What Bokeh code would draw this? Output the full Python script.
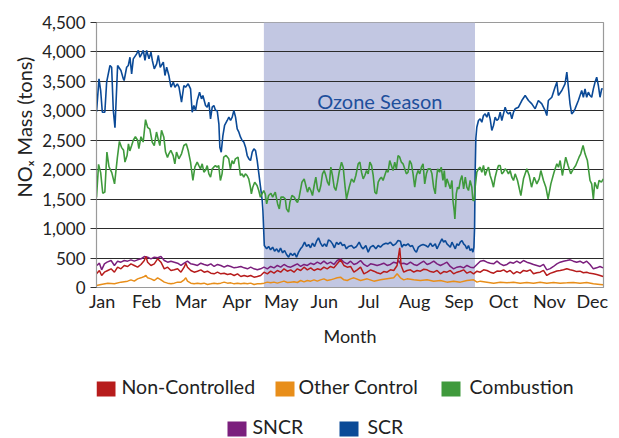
from bokeh.plotting import figure
from bokeh.models import Range1d, FixedTicker, NumeralTickFormatter, Label, Title
from bokeh.layouts import column
from bokeh.embed import file_html
from bokeh.resources import INLINE
from bokeh.core.properties import value

# ---------------- data (day of year, tons) ----------------
month_labels = ["Jan", "Feb", "Mar", "Apr", "May", "Jun",
                "Jul", "Aug", "Sep", "Oct", "Nov", "Dec"]
series_names = ["Non-Controlled", "Other Control", "Combustion", "SNCR", "SCR"]
season_start = 120.5   # May 1
season_end = 272.5     # Sep 30

scr_day = [0, 1.8, 3, 4.2, 6, 7.3, 9.7, 10.9, 12.1, 13.3, 15.2, 17.6, 19.3, 19.9, 21.7, 22.9, 24.1, 25.3,
           26.5, 28.9, 30.1, 31.3, 32.5, 33.7, 34.9, 36.1, 37.8, 39.2, 40.2, 41.6, 43.3, 44.5, 45.9, 48.1,
           49.3, 50.5, 52.1, 53.6, 55.3, 56.5, 58.2, 59.4, 61.2, 62.9, 64.1, 66, 67.7, 68.9, 70.1, 71.3,
           72.5, 74.2, 75.6, 76.6, 78.5, 79.7, 80.9, 82.1, 83.3, 84.5, 85.7, 86.9, 88.1, 88.8, 89.8, 91,
           92.2, 94.1, 95.3, 96.5, 97.7, 98.9, 100.1, 101.3, 102.5, 103.7, 104.9, 106.1, 107.3, 108.5,
           109.7, 110.9, 112.1, 113.3, 114.5, 115.7, 116.9, 118.1, 119.3, 119.8,
           120.8, 122.5, 123.9, 125.3, 126.8, 128.2, 129.7, 131.1, 132.5, 134, 135.4, 136.8, 138.3, 139.7,
           141.2, 142.6, 144, 145.5, 146.9, 148.3, 149.8, 151.2, 152.7, 154.1, 155.5, 157, 158.4, 159.8,
           161.3, 162.7, 164.1, 165.6, 167, 168.5, 169.9, 171.3, 172.8, 174.2, 175.6, 177.1, 178.5, 179.9,
           181.4, 183.6, 185.3, 187.2, 189.1, 190.8, 192, 193.9, 195.6, 197.2, 199.2, 201.1, 202.8, 204.4,
           206.3, 208.3, 209.9, 211.6, 213.5, 215.4, 217.1, 218.8, 219.8, 221.2, 222.6, 224.3, 226, 227.4,
           229.1, 230.3, 231.7, 233.2, 235.1, 237, 238.7, 240.4, 241.8, 242.7, 243.9, 245.1, 246.3, 247.5,
           248.7, 249.9, 251.1, 252.3, 253.5, 254.7, 255.9, 257.1, 258.3, 259.5, 260.7, 261.9, 263.1,
           264.3, 265.5, 266.6, 267.8, 269, 270.2, 271, 271.7, 272.2, 272.6, 273.1, 273.8,
           275, 276.2, 277.4, 278.6, 279.8, 281, 282.2, 283.4, 284.6, 285.8, 287, 288.2, 289.4, 290.6,
           291.8, 293, 294.2, 295.4, 296.6, 297.8, 299, 300.2, 301.4, 303.8, 306.2, 308.6, 311, 313.4,
           315.8, 318.1, 320.6, 323, 324.2, 325.3, 327.8, 330.1, 331.4, 332.5, 335, 337.3, 338.6, 339.7,
           340.9, 342.1, 343.3, 344.5, 346.9, 349.3, 350.5, 351.7, 352.9, 354.1, 355.3, 356.5, 357.7,
           358.9, 360.1, 361.3, 362.5, 363.7, 364.4]
scr_tons = [2980, 3543, 3345, 2977, 2977, 3486, 3770, 3740, 3005, 2712, 3770, 3685, 3543, 3515, 3740, 3770, 3910, 3628,
            3883, 3968, 4025, 3910, 3968, 4025, 3855, 4025, 3883, 3997, 3855, 3713, 3798, 3940, 3740, 3826,
            3600, 3740, 3600, 3401, 3486, 3401, 3458, 3401, 3146, 3430, 3401, 3458, 3373, 2977, 3090, 3005,
            3175, 3317, 3203, 3260, 3090, 3062, 3146, 2864, 3062, 3090, 3005, 3005, 2780, 2383, 2298, 2581,
            2751, 2836, 2893, 2836, 2893, 3005, 2893, 2694, 2638, 2553, 2496, 2468, 2383, 2241,
            2185, 2156, 2298, 2355, 2326, 2156, 1930, 1703, 1477, 1307,
            713, 657, 697, 640, 685, 617, 657, 600, 668, 589, 628, 560, 515, 583,
            543, 583, 515, 600, 657, 697, 770, 697, 730, 674, 753, 697, 787, 843,
            753, 697, 741, 697, 809, 787, 741, 674, 770, 730, 770, 713, 730, 657,
            697, 713, 668, 697, 770, 685, 657, 713, 600, 685, 713, 657, 713, 685,
            730, 753, 741, 770, 713, 741, 798, 787, 685, 730, 713, 741, 697, 713,
            628, 600, 685, 713, 730, 713, 685, 753, 697, 713, 741, 657, 713, 770,
            826, 770, 798, 741, 713, 685, 770, 713, 657, 741, 713, 770, 798,
            741, 713, 657, 713, 628, 657, 600, 685, 1024, 1950, 2530, 2722,
            2836, 2864, 2807, 2920, 2948, 2892, 2977, 2864, 2666, 2751, 2892, 2836, 2864, 2977,
            2836, 2948, 3062, 2977, 2948, 2977, 2864, 2977, 3034, 3062, 3175, 3260, 3175, 3119,
            3034, 3175, 3119, 3005, 2920, 3175, 3231, 3401, 3486, 3260, 3345, 3458, 3656, 3401,
            3119, 2949, 2980, 3034, 3175, 3345, 3231, 3373, 3231, 3317, 3260, 3231, 3373,
            3486, 3571, 3430, 3231, 3373, 3373]

comb_day = [0, 1.5, 3, 4.5, 6, 7.5, 9, 11, 13, 15, 16.5, 18, 19.5, 20.5, 22, 23, 24, 25.3, 26.5, 28, 29.6,
            30.5, 32, 33.6, 35.3, 36.8, 38.4, 40.1, 41.6, 43.2, 44.4, 45.6, 46.8, 48.5, 49.7, 51.1, 52.1,
            53.5, 55.2, 56.4, 57.6, 59.3, 61.2, 62.9, 64.6, 66, 67.7, 69.4, 70.8, 72.5, 73.7, 74.9, 76.1,
            77.3, 78.5, 79.7, 80.9, 82.1, 83.3, 84.4, 85.6, 86.8, 88, 89.2, 90.4, 91.6, 93.3, 95.2, 96.4,
            97.6, 98.8, 100, 101.9, 103.6, 104.8, 106, 107.2, 108.4, 109.6, 110.8, 111.5, 112.5, 113.9,
            115.6, 116.8, 118, 119.2, 120.4, 121.5, 122.5, 123.9, 125.6, 126.8, 128.7, 130.4, 131.6, 132.8,
            134.5, 135.9, 136.8, 138.3, 139.2, 140.7, 142.4, 143.6, 144.7, 145.9, 147.9, 149.5, 150.7,
            151.9, 153.1, 154.3, 155.5, 156.7, 157.9, 159.1, 160.3, 161.5, 162.7, 163.9, 165.1, 166.3,
            167.5, 168.7, 169.9, 171.1, 172.3, 173.5, 174.7, 176.4, 177.6, 179, 180, 181.9, 183.6, 185.3,
            186.7, 188.4, 189.6, 190.8, 192, 193.2, 194.4, 195.6, 196.8, 198, 199.2, 200.4, 201.6, 202.8,
            204, 205.1, 206.3, 207.5, 208.7, 209.9, 211.1, 212.3, 213.5, 214.7, 215.9, 217.1, 218.3, 219.5,
            220.7, 221.9, 223.1, 224.3, 225.5, 226.7, 227.9, 229.1, 230.3, 231.5, 232.7, 233.9, 235.1,
            236.3, 237.5, 238.7, 240.3, 241.5, 242.7, 243.9, 244.6, 245.6, 247, 248.2, 249.4, 250.4, 251.3,
            252.3, 253.5, 254.7, 255.9, 256.6, 257.5, 258, 259, 259.9, 260.9, 261.9, 263.1, 264.3, 265.5,
            266.6, 267.8, 269, 270.2, 271, 271.9, 272.6, 273.8, 275, 276.2, 277.4, 278.6, 279.8, 281,
            282.2, 283.4, 284.6, 285.8, 287, 288.2, 289.4, 290.6, 291.8, 293, 294.2, 295.4, 296.6, 297.8,
            299, 300.2, 301.4, 303.1, 305.5, 307.4, 309.8, 311.5, 313.2, 315.1, 317, 318.7, 319.9, 321.8,
            323.5, 325.1, 327.1, 329.4, 331.4, 332.6, 333.8, 335.4, 337.8, 339.5, 341.4, 343.3, 345, 347.4,
            348.6, 350.3, 351.7, 353.4, 355.3, 356.5, 357.7, 358.7, 360.6, 361.8, 363.5, 364.9]
comb_tons = [1530, 2090, 1950, 1600, 1620, 2300, 2050, 1950, 1760, 2200, 2480, 2380, 2330, 2130, 2240, 2440, 2320, 2410, 2500, 2560, 2500,
             2360, 2560, 2470, 2850, 2720, 2690, 2470, 2410, 2640, 2520, 2410, 2670, 2550, 2300, 2210, 2270,
             2330, 2240, 2100, 2300, 2185, 2270, 2411, 2440, 2326, 2128, 1817, 2043, 2128, 2070, 2015, 2100,
             1958, 1990, 2070, 1930, 1873, 2015, 2043, 2070, 2043, 2070, 1817, 1930, 2213, 2241, 2185, 2015,
             2156, 2100, 2185, 2213, 1902, 1930, 1873, 1930, 1902, 1845, 1703, 1591, 1703, 1788,
             1732, 1647, 1533, 1591, 1647, 1585, 1420, 1562, 1600, 1534, 1619, 1420, 1335, 1534,
             1534, 1505, 1335, 1279, 1443, 1562, 1534, 1477, 1443, 1534, 1788, 1845, 1732,
             1619, 1703, 1647, 1562, 1732, 1873, 1675, 1619, 1732, 1930, 1986, 1900, 1788,
             1732, 2043, 1900, 1703, 1647, 1788, 1958, 2128, 2043, 1703, 1505, 1703, 1845, 1788,
             1902, 2100, 2128, 1958, 1845, 1902, 1986, 1930, 2128, 2072, 1902, 1619, 1590, 1788,
             1845, 1873, 1817, 1902, 1986, 1958, 2156, 2072, 1986, 2128, 2015, 2241, 2213, 2128,
             2100, 2015, 1930, 1958, 2156, 2100, 1930, 1703, 1902, 1986, 1930, 2043, 2100,
             1760, 1930, 2015, 2015, 1930, 1703, 1590, 1817, 2015, 1958, 2043, 1817, 1986, 1703,
             1845, 1760, 1675, 1817, 1477, 1307, 1165, 1590, 1703, 1675, 1817, 1902, 1675, 1873,
             1703, 1647, 1817, 1703, 1477, 1477, 1703, 1958, 2015, 2043, 1958, 2072, 1902, 1986,
             2043, 1902, 1817, 1703, 1873, 1986, 2072, 2072, 1930, 1958, 2015, 1986, 1930, 1986,
             1873, 1817, 1930, 1817, 1562, 1845, 2015, 1902, 1703, 1873, 1760, 1845, 1986, 1817,
             1703, 1505, 1760, 1958, 2100, 2043, 2156, 1902, 2213, 2072, 1930, 2015, 2072, 2213,
             2270, 2411, 2270, 2156, 1817, 1760, 1505, 1788, 1675, 1817, 1788, 1845]

sncr_day = [0, 2.1, 3.7, 5.7, 7.6, 10.5, 12.9, 15.2, 17.6, 20, 22.4, 24.8, 27.2, 29.6, 32, 34.4, 36.8, 39.2,
            41.6, 44, 46.4, 48.8, 51.2, 53.6, 56, 58.4, 60.8, 63.1, 65.5, 67.9, 70.3, 72.7, 75.1, 77.5, 79.9,
            82.3, 84.7, 87.1, 89.5, 91.9, 94.3, 96.7, 99.1, 101.5, 103.9, 106.3, 108.7, 111, 113.4, 115.8,
            118.2, 120.6, 123, 125.4, 127.8, 130.2, 132.6, 135, 137.4, 139.8, 142.2, 144.6, 147, 149.4, 151.8,
            154.2, 156.6, 159, 161.3, 163.7, 166.1, 168.5, 170.9, 173.3, 175.7, 178.1, 180.5, 182.9, 185.3,
            187.7, 190.1, 192.5, 194.9, 197.3, 199.7, 202, 204.4, 206.8, 209.2, 211.6, 214, 216.4, 217.6,
            218.8, 221.2, 223.6, 226, 228.4, 230.8, 233.2, 235.6, 238, 240.4, 242.8, 245.2, 247.6, 250,
            252.3, 254.7, 257.1, 259.5, 261.9, 264.3, 266.7, 269.1, 271.5, 273.9, 276.3, 278.7, 281.1,
            283.5, 285.9, 288.3, 290.7, 293.1, 295.5, 297.8, 300.2, 302.6, 305, 307.4, 309.8, 312.2, 314.6,
            317, 319.4, 321.8, 324.2, 326.6, 329, 331.4, 333.8, 336.2, 338.6, 341, 343.3, 345.7, 348.1,
            350.5, 352.9, 355.3, 357.7, 360.1, 362.5, 364.7]
sncr_tons = [370, 413, 300, 402, 430, 458, 374, 447, 430, 458, 447, 470, 447, 470, 487, 526, 515, 487,
             515, 505, 526, 458, 430, 447, 430, 413, 374, 413, 447, 402, 391, 374, 413, 391, 374,
             402, 357, 391, 374, 345, 374, 357, 334, 345, 357, 334, 317, 345, 317, 300,
             317, 345, 317, 357, 334, 374, 345, 391, 357, 345, 374, 402, 357, 391, 374,
             413, 391, 430, 402, 447, 402, 430, 391, 458, 487, 430, 402, 447, 391,
             413, 458, 391, 357, 402, 391, 374, 391, 413, 374, 391, 430, 413, 458,
             402, 413, 391, 430, 391, 374, 413, 447, 391, 413, 447, 402, 374, 402,
             430, 357, 317, 345, 357, 334, 374, 345, 334, 391, 447, 458, 430,
             413, 402, 447, 402, 374, 391, 430, 413, 447, 413, 458, 430, 413, 391,
             374, 357, 391, 300, 320, 357, 402, 430, 447, 458, 470, 447, 430, 447,
             413, 447, 391, 317, 334, 357, 334]

nonc_day = [0, 2.1, 3.7, 5.7, 8.1, 10.5, 12.9, 15.2, 17.6, 20, 22.4, 24.8, 27.2, 29.6, 32, 34.4, 35.6, 36.8,
            39.2, 41.6, 44, 46.4, 48.8, 51.2, 53.6, 56, 58.4, 60.8, 63.1, 64.3, 65.5, 67.9, 70.3, 72.7, 75.1,
            77.5, 79.9, 82.3, 84.7, 87.1, 89.5, 91.9, 94.3, 96.7, 99.1, 101.5, 103.9, 106.3, 108.7, 111,
            113.4, 115.8, 118.2, 120.6, 123, 125.4, 127.8, 130.2, 132.6, 135, 137.4, 139.8, 142.2, 144.6,
            147, 149.4, 151.8, 154.2, 156.6, 159, 161.3, 163.7, 166.1, 168.5, 170.9, 173.3, 175.7, 178.1,
            180.5, 182.9, 185.3, 187.7, 190.1, 192.5, 194.9, 197.3, 199.7, 202, 204.4, 206.8, 209.2, 211.6,
            214, 216.4, 218.3, 219.3, 221.2, 223.6, 226, 228.4, 230.8, 233.2, 235.6, 238, 240.4, 242.8,
            245.2, 247.6, 250, 252.3, 254.7, 257.1, 259.5, 261.9, 264.3, 266.7, 269.1, 271.5, 273.9, 276.3,
            278.7, 281.1, 283.5, 285.9, 288.3, 290.7, 293.1, 295.5, 297.8, 300.2, 302.6, 305, 307.4, 309.8,
            312.2, 314.6, 317, 319.4, 321.8, 324.2, 326.6, 329, 331.4, 333.8, 336.2, 338.6, 341, 343.3,
            345.7, 348.1, 350.5, 352.9, 355.3, 357.7, 360.1, 362.5, 364.7]
nonc_tons = [232, 289, 204, 260, 289, 317, 260, 345, 317, 374, 357, 402, 374, 345, 391, 458, 526, 430,
             374, 402, 487, 430, 317, 345, 289, 300, 317, 260, 345, 413, 345, 289, 260, 277, 300,
             260, 277, 243, 232, 260, 232, 243, 221, 232, 204, 232, 187, 204, 187, 204,
             175, 187, 204, 260, 232, 277, 243, 289, 260, 317, 277, 300, 260, 317,
             289, 345, 300, 334, 289, 317, 300, 345, 317, 357, 334, 402, 470, 374,
             345, 357, 260, 300, 345, 232, 260, 300, 277, 250, 232, 270, 260, 300,
             289, 374, 674, 374, 260, 289, 300, 260, 289, 277, 310, 300, 270, 260,
             290, 232, 270, 260, 290, 232, 260, 277, 300, 243, 270, 232, 277, 260,
             300, 289, 260, 243, 280, 277, 300, 260, 290, 232, 270, 243, 290, 277,
             300, 232, 250, 260, 290, 204, 240, 260, 280, 289, 300, 317, 300, 289,
             270, 277, 250, 260, 240, 232, 220, 204, 187]

othc_day = [0, 3.3, 8.1, 12.9, 17.6, 22.4, 24.8, 27.2, 29.6, 32, 34.4, 35.6, 36.8, 39.2, 41.6, 44, 46.4,
            48.8, 51.2, 53.6, 56, 58.4, 60.8, 63.1, 64.3, 65.5, 67.9, 70.3, 72.7, 75.1, 77.5, 79.9, 82.3,
            84.7, 87.1, 89.5, 91.9, 94.3, 96.7, 99.1, 101.5, 103.9, 106.3, 108.7, 111, 113.4, 115.8, 118.2,
            120.6, 123, 125.4, 127.8, 130.2, 132.6, 135, 137.4, 139.8, 142.2, 144.6, 147, 149.4, 151.8,
            154.2, 156.6, 159, 161.3, 163.7, 166.1, 168.5, 170.9, 173.3, 175.7, 178.1, 180.5, 182.9, 185.3,
            190.1, 194.9, 199.7, 204.4, 209.2, 214, 216.4, 218.8, 221.2, 223.6, 228.4, 233.2, 238, 242.8,
            247.6, 252.3, 257.1, 261.9, 266.7, 271.5, 273.9, 276.3, 281.1, 285.9, 290.7, 295.5, 300.2, 305,
            309.8, 314.6, 319.4, 324.2, 329, 333.8, 338.6, 343.3, 348.1, 352.9, 357.7, 362.5, 364.7]
othc_tons = [34, 51, 74, 62, 91, 108, 130, 108, 147, 164, 187, 204, 164, 147, 119, 164, 130,
             91, 74, 62, 74, 91, 91, 130, 164, 108, 74, 62, 74, 62, 74, 51, 62,
             74, 62, 74, 91, 74, 79, 62, 74, 62, 74, 62, 74, 51, 62, 62,
             74, 91, 79, 91, 74, 91, 108, 85, 91, 96, 85, 119, 96, 119,
             108, 130, 108, 130, 147, 119, 130, 147, 164, 175, 130, 119, 147, 164,
             119, 147, 108, 130, 147, 164, 232, 164, 130, 147, 130, 119, 130, 108,
             119, 91, 108, 91, 119, 130, 91, 108, 91, 74, 91, 79, 91, 74,
             85, 74, 91, 74, 85, 74, 79, 85, 74, 85, 62, 51, 45]

# ---------------- style ----------------
FONT = "Lato"
TXT = "#222222"
C_NONC = "#B71C1C"
C_OTHC = "#E88E1A"
C_COMB = "#3F9A3C"
C_SNCR = "#7B1F7D"
C_SCR = "#0B4A97"
C_SHADE = "#C2C7E2"

month_ticks = [4, 36, 68, 101, 133, 164, 196, 229, 261, 293, 326, 357]

FR_L, FR_R = 96, 603          # frame edges in page pixels
p = figure(width=619, height=360, x_range=Range1d(0, 365), y_range=Range1d(0, 4500),
           output_backend="svg", toolbar_location=None,
           min_border_left=FR_L, min_border_right=619 - FR_R, min_border_top=22, min_border_bottom=73)
p.background_fill_color = "white"
p.border_fill_color = "white"
p.outline_line_color = "#9a9a9a"
p.outline_line_width = 1.2

p.quad(left=[season_start], right=[season_end], bottom=[0], top=[4500],
       fill_color=C_SHADE, line_color=None, level="image")

# axes
p.yaxis.ticker = FixedTicker(ticks=list(range(0, 4501, 500)))
p.yaxis.formatter = NumeralTickFormatter(format="0,0")
p.yaxis.major_tick_out = 6
p.yaxis.major_tick_in = 0
p.yaxis.major_tick_line_color = "#333333"
p.yaxis.minor_tick_line_color = None
p.yaxis.axis_line_color = "#9a9a9a"
p.yaxis.major_label_standoff = 5
p.yaxis.major_label_text_font = FONT
p.yaxis.major_label_text_font_size = "17px"
p.yaxis.major_label_text_color = TXT

p.xaxis.ticker = FixedTicker(ticks=month_ticks)
p.xaxis.major_label_overrides = {t: m for t, m in zip(month_ticks, month_labels)}
p.xaxis.major_tick_out = 0
p.xaxis.major_tick_in = 0
p.xaxis.minor_tick_line_color = None
p.xaxis.axis_line_color = "#9a9a9a"
p.xaxis.major_label_standoff = 2
p.xaxis.major_label_text_font = FONT
p.xaxis.major_label_text_font_size = "18px"
p.xaxis.major_label_text_color = TXT
p.xaxis.axis_label = "Month"
p.xaxis.axis_label_text_font = FONT
p.xaxis.axis_label_text_font_size = "18px"
p.xaxis.axis_label_text_font_style = "normal"
p.xaxis.axis_label_text_color = TXT
p.xaxis.axis_label_standoff = 10

p.xgrid.visible = False
p.ygrid.ticker = FixedTicker(ticks=list(range(500, 4001, 500)))
p.ygrid.grid_line_color = "#2b2b2b"
p.ygrid.grid_line_width = 1.2

# y-axis title (vertical, offset upward like the reference)
p.add_layout(Title(text="NO\u2093 Mass (tons)", align="left", offset=90,
                   text_font=FONT, text_font_size="20px", text_font_style="normal",
                   text_color=TXT, standoff=8), "left")

# lines
p.line(scr_day, scr_tons, line_color=C_SCR, line_width=1.6)
p.line(comb_day, comb_tons, line_color=C_COMB, line_width=1.6)
p.line(sncr_day, sncr_tons, line_color=C_SNCR, line_width=1.5)
p.line(othc_day, othc_tons, line_color=C_OTHC, line_width=1.5)
p.line(nonc_day, nonc_tons, line_color=C_NONC, line_width=1.5)

p.add_layout(Label(x=204, y=3175, text="Ozone Season", text_align="center",
                   text_baseline="middle", text_font=FONT, text_font_size="20px",
                   text_color="#1E4F9C"))

# ---------------- legend strip (frame aligned with main frame) ----------------
LH = 78
lg = figure(width=619, height=LH, x_range=Range1d(FR_L, FR_R), y_range=Range1d(0, LH),
            output_backend="svg", toolbar_location=None,
            x_axis_location=None, y_axis_location=None,
            min_border_left=FR_L, min_border_right=619 - FR_R, min_border_top=0, min_border_bottom=0)
lg.grid.visible = False
lg.outline_line_color = None
lg.background_fill_color = "white"
lg.border_fill_color = "white"

colors = [C_NONC, C_OTHC, C_COMB, C_SNCR, C_SCR]
sq_left = [96, 275, 441, 227, 339]          # page x
sq_top = [381, 381, 381, 421, 421]          # page y
txt_x = [121, 298, 469, 252, 367]
txt_mid = [386, 386, 386, 425.5, 425.5]
lg.quad(left=sq_left, right=[v + 19 for v in sq_left],
        top=[438 - v for v in sq_top], bottom=[438 - v - 15 for v in sq_top],
        fill_color=colors, line_color=None)
lg.text(x=txt_x, y=[438 - v for v in txt_mid], text=series_names, text_font=value(FONT),
        text_font_size=value("19.5px"), text_baseline="middle", text_align="left",
        text_color=TXT)

layout = column(p, lg, spacing=0)
open("out.html", "w").write(file_html(layout, INLINE))
